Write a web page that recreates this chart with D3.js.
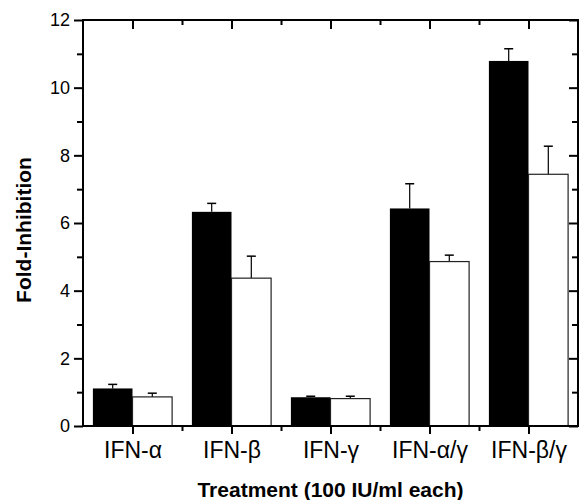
<!DOCTYPE html>
<html>
<head>
<meta charset="utf-8">
<title>Fold-Inhibition</title>
<script src="https://d3js.org/d3.v7.min.js"></script>
<style>
  body { margin: 0; background: #fff; }
  svg text { font-family: "Liberation Sans", Arial, sans-serif; fill: #000; }
</style>
</head>
<body>
<div id="chart"></div>
<script>
// data
var categories = ["IFN-\u03b1", "IFN-\u03b2", "IFN-\u03b3", "IFN-\u03b1/\u03b3", "IFN-\u03b2/\u03b3"];
var blackVals = [1.11, 6.33, 0.85, 6.43, 10.79];
var blackErr  = [0.12, 0.25, 0.03, 0.73, 0.36];
var whiteVals = [0.86, 4.37, 0.81, 4.86, 7.44];
var whiteErr  = [0.11, 0.65, 0.07, 0.19, 0.83];
var yTicks = [0, 2, 4, 6, 8, 10, 12];
var yMinor = [1, 3, 5, 7, 9, 11];

var W = 580, H = 500;
var plotL = 83, plotR = 578, plotT = 20, plotB = 426;

var svg = d3.select("#chart").append("svg")
  .attr("width", W)
  .attr("height", H);

var x = d3.scaleLinear().domain([0.5, categories.length + 0.5]).range([plotL, plotR]);
var y = d3.scaleLinear().domain([0, 12]).range([plotB, plotT]);

var centers = categories.map(function(d, i) { return i + 1; });
var bounds = d3.range(1.5, categories.length, 1);
var barW = 0.4;

var rows = categories.map(function(c, i) {
  return { i: i + 1, b: blackVals[i], be: blackErr[i], w: whiteVals[i], we: whiteErr[i] };
});

var g = svg.append("g");

// error bars (upper only)
function errBar(cx, v, e) {
  var px = x(cx);
  g.append("line")
    .attr("x1", px).attr("x2", px)
    .attr("y1", y(v)).attr("y2", y(v + e))
    .attr("stroke", "#000").attr("stroke-width", 1.2);
  g.append("line")
    .attr("x1", px - 4.5).attr("x2", px + 4.5)
    .attr("y1", y(v + e)).attr("y2", y(v + e))
    .attr("stroke", "#000").attr("stroke-width", 1.5);
}
rows.forEach(function(d) {
  errBar(d.i - barW / 2, d.b, d.be);
  errBar(d.i + barW / 2, d.w, d.we);
});

g.selectAll("rect.black")
  .data(rows)
  .enter().append("rect")
  .attr("class", "black")
  .attr("x", function(d) { return x(d.i - barW); })
  .attr("width", function(d) { return x(d.i) - x(d.i - barW); })
  .attr("y", function(d) { return y(d.b); })
  .attr("height", function(d) { return y(0) - y(d.b); })
  .attr("fill", "#000");

g.selectAll("rect.white")
  .data(rows)
  .enter().append("rect")
  .attr("class", "white")
  .attr("x", function(d) { return x(d.i); })
  .attr("width", function(d) { return x(d.i + barW) - x(d.i); })
  .attr("y", function(d) { return y(d.w); })
  .attr("height", function(d) { return y(0) - y(d.w); })
  .attr("fill", "#fff")
  .attr("stroke", "#222")
  .attr("stroke-width", 1.2);

// axes
function styleAxis(sel) {
  sel.select(".domain").remove();
  sel.selectAll("line").attr("stroke", "#000").attr("stroke-width", 2);
}

// bottom
svg.append("g")
  .attr("transform", "translate(0," + plotB + ")")
  .call(d3.axisBottom(x).tickValues(centers).tickSize(8).tickPadding(8)
    .tickFormat(function(d, i) { return categories[i]; }))
  .call(styleAxis)
  .selectAll("text").attr("font-size", "23px");
svg.append("g")
  .attr("transform", "translate(0," + plotB + ")")
  .call(d3.axisBottom(x).tickValues(bounds).tickSize(5).tickFormat(""))
  .call(styleAxis);

// top (inward)
svg.append("g")
  .attr("transform", "translate(0," + plotT + ")")
  .call(d3.axisBottom(x).tickValues(centers).tickSize(9).tickFormat(""))
  .call(styleAxis);
svg.append("g")
  .attr("transform", "translate(0," + plotT + ")")
  .call(d3.axisBottom(x).tickValues(bounds).tickSize(5).tickFormat(""))
  .call(styleAxis);

// left
svg.append("g")
  .attr("transform", "translate(" + plotL + ",0)")
  .call(d3.axisLeft(y).tickValues(yTicks).tickSize(9).tickPadding(4))
  .call(styleAxis)
  .selectAll("text").attr("font-size", "18px");
svg.append("g")
  .attr("transform", "translate(" + plotL + ",0)")
  .call(d3.axisLeft(y).tickValues(yMinor).tickSize(6).tickFormat(""))
  .call(styleAxis);

// right (inward)
svg.append("g")
  .attr("transform", "translate(" + plotR + ",0)")
  .call(d3.axisLeft(y).tickValues(yTicks).tickSize(9).tickFormat(""))
  .call(styleAxis);
svg.append("g")
  .attr("transform", "translate(" + plotR + ",0)")
  .call(d3.axisLeft(y).tickValues(yMinor).tickSize(6).tickFormat(""))
  .call(styleAxis);

// frame
svg.append("rect")
  .attr("x", plotL).attr("y", plotT)
  .attr("width", plotR - plotL).attr("height", plotB - plotT)
  .attr("fill", "none")
  .attr("stroke", "#000")
  .attr("stroke-width", 2);

// axis titles
svg.append("text")
  .attr("x", (plotL + plotR) / 2)
  .attr("y", 497)
  .attr("text-anchor", "middle")
  .attr("font-size", "21px")
  .attr("font-weight", "bold")
  .text("Treatment (100 IU/ml each)");

svg.append("text")
  .attr("transform", "translate(31," + ((plotT + plotB) / 2 + 7) + ") rotate(-90)")
  .attr("text-anchor", "middle")
  .attr("font-size", "21px")
  .attr("font-weight", "bold")
  .text("Fold-Inhibition");
</script>
</body>
</html>
